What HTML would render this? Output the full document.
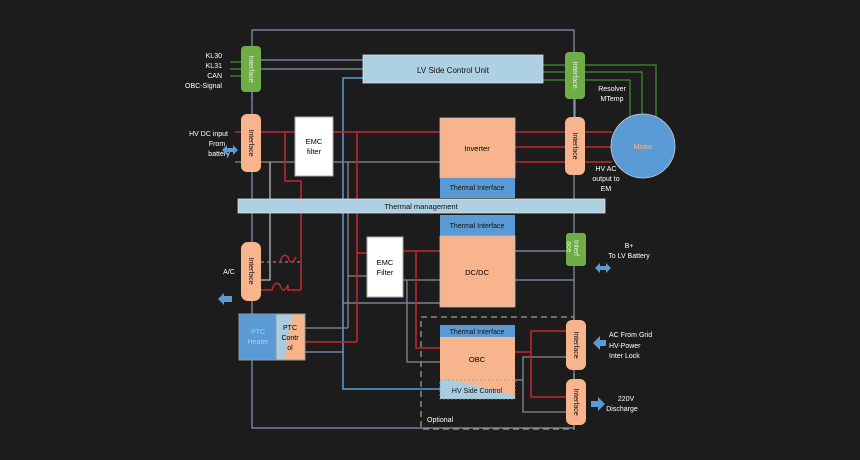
<!DOCTYPE html>
<html><head><style>
html,body{margin:0;padding:0;background:#1c1c1c;}
svg{display:block;font-family:"Liberation Sans",sans-serif;}
</style></head><body>
<svg width="860" height="460" viewBox="0 0 860 460" xmlns="http://www.w3.org/2000/svg">
<defs>
<linearGradient id="ptc" x1="0" y1="0" x2="1" y2="0.3">
<stop offset="0.45" stop-color="#a9cde0"/><stop offset="0.6" stop-color="#f8b48c"/></linearGradient>
<linearGradient id="hv" x1="0" y1="1" x2="1" y2="0">
<stop offset="0.55" stop-color="#a9cde0"/><stop offset="0.62" stop-color="#f8b48c"/></linearGradient>
</defs>
<rect width="860" height="460" fill="#1c1c1c"/>
<g stroke="#8497b0" stroke-width="1.2" fill="none">
<polyline points="252,100 252,30 574,30 574,428 252,428 252,360"/>
<line x1="252" y1="92" x2="252" y2="114"/>
<line x1="252" y1="172" x2="252" y2="242"/>
<line x1="252" y1="301" x2="252" y2="314"/>
</g>
<rect x="421" y="317" width="153" height="112" fill="none" stroke="#8a8a8a" stroke-width="1.5" stroke-dasharray="6,4"/>
<g stroke="#3a7d2a" stroke-width="1.5" fill="none">
<line x1="230" y1="62" x2="241" y2="62"/><line x1="230" y1="69" x2="241" y2="69"/><line x1="230" y1="76" x2="241" y2="76"/>
<line x1="543" y1="65" x2="565" y2="65"/><line x1="543" y1="72" x2="565" y2="72"/><line x1="543" y1="80" x2="565" y2="80"/>
<polyline points="585,65 656,65 656,118"/><polyline points="585,72 642,72 642,114"/><polyline points="585,80 630,80 630,118"/>
</g>
<g stroke="#8497b0" stroke-width="1.2" fill="none">
<line x1="261" y1="60" x2="363" y2="60"/><line x1="261" y1="69" x2="363" y2="69"/>
<line x1="343" y1="303" x2="440" y2="303"/>
<line x1="305" y1="352" x2="343" y2="352"/>
<line x1="515" y1="251" x2="574" y2="251"/><line x1="515" y1="280" x2="574" y2="280"/>
<line x1="575" y1="99" x2="575" y2="117"/>
</g>
<polyline points="363,78 343,78 343,389 440,389" stroke="#5b9bd5" stroke-width="1.5" fill="none"/>
<g stroke="#8a8a8a" stroke-width="1.3" fill="none">
<line x1="235" y1="162" x2="440" y2="162"/>
<polyline points="270,162 270,280 261,280" stroke="#bbb"/>
<line x1="348" y1="162" x2="348" y2="328"/><line x1="348" y1="328" x2="305" y2="328"/>
<line x1="348" y1="276" x2="367" y2="276"/>
<line x1="403" y1="280" x2="440" y2="280"/>
<polyline points="407,280 407,362 440,362"/>
<line x1="261" y1="262" x2="302" y2="262" stroke-dasharray="3,3"/>
<polyline points="515,380 523,380"/>
<polyline points="566,357 523,357 523,412 566,412"/>
</g>
<g stroke="#c0282e" stroke-width="1.5" fill="none">
<line x1="235" y1="132" x2="440" y2="132"/>
<polyline points="285,132 285,181 301,181 301,290"/>
<line x1="357" y1="132" x2="357" y2="342"/><line x1="357" y1="342" x2="305" y2="342"/>
<line x1="357" y1="253" x2="367" y2="253"/>
<line x1="515" y1="132" x2="612" y2="132"/><line x1="515" y1="147" x2="612" y2="147"/><line x1="515" y1="162" x2="612" y2="162"/>
<line x1="403" y1="251" x2="440" y2="251"/>
<polyline points="416,251 416,348 440,348"/>
<polyline points="515,352 531,352"/>
<polyline points="566,331 531,331 531,397 566,397"/>
<path d="M261,290 H272 q3,-10 8,-5 q3,10 8,0 V290 H301"/>
<path d="M280,262 q3,-10 8,-5 q3,10 8,0"/>
</g>
<rect x="363" y="55" width="180" height="28" fill="#add1e3" stroke="#ddd" stroke-width="0.8"/>
<text x="453" y="73" font-size="8" text-anchor="middle" fill="#111">LV Side Control Unit</text>
<rect x="295" y="117" width="38" height="59" fill="#fff" stroke="#aaa"/>
<text x="314" y="144" font-size="7.5" text-anchor="middle">EMC</text><text x="314" y="154" font-size="7.5" text-anchor="middle">filter</text>
<rect x="440" y="118" width="75" height="60" fill="#f8b48c" stroke="#bbb" stroke-width="0.8"/>
<text x="477" y="151" font-size="7.5" text-anchor="middle">Inverter</text>
<rect x="440" y="178" width="75" height="20" fill="#5b9bd5"/>
<text x="477" y="190" font-size="7" text-anchor="middle" fill="#111">Thermal Interface</text>
<rect x="238" y="199" width="367" height="14" fill="#add1e3" stroke="#ddd" stroke-width="0.8"/>
<text x="421" y="209" font-size="7.5" text-anchor="middle" fill="#111">Thermal management</text>
<rect x="440" y="215" width="75" height="21" fill="#5b9bd5"/>
<text x="477" y="228" font-size="7" text-anchor="middle" fill="#111">Thermal Interface</text>
<rect x="440" y="236" width="75" height="71" fill="#f8b48c" stroke="#bbb" stroke-width="0.8"/>
<text x="477" y="275" font-size="7.5" text-anchor="middle">DC/DC</text>
<rect x="367" y="237" width="36" height="60" fill="#fff" stroke="#aaa"/>
<text x="385" y="265" font-size="7.5" text-anchor="middle">EMC</text><text x="385" y="275" font-size="7.5" text-anchor="middle">Filter</text>
<rect x="440" y="325" width="75" height="12" fill="#5b9bd5"/>
<text x="477" y="334" font-size="7" text-anchor="middle" fill="#111">Thermal Interface</text>
<rect x="440" y="337" width="75" height="43" fill="#f8b48c"/>
<text x="477" y="362" font-size="7.5" text-anchor="middle">OBC</text>
<rect x="440" y="380" width="75" height="19" fill="url(#hv)" stroke="#999" stroke-dasharray="2,2" stroke-width="0.8"/>
<text x="477" y="393" font-size="7" text-anchor="middle" fill="#111">HV Side Control</text>
<rect x="239" y="314" width="37" height="46" fill="#5b9bd5" stroke="#999"/>
<text x="258" y="334" font-size="7" text-anchor="middle" fill="#a9cde0">PTC</text><text x="258" y="344" font-size="7" text-anchor="middle" fill="#a9cde0">Heater</text>
<rect x="276" y="314" width="29" height="46" fill="url(#ptc)" stroke="#999"/>
<text x="290" y="330" font-size="7" text-anchor="middle">PTC</text><text x="290" y="340" font-size="7" text-anchor="middle">Contr</text><text x="290" y="350" font-size="7" text-anchor="middle">ol</text>
<circle cx="643" cy="146" r="32" fill="#5b9bd5" stroke="#ccc" stroke-width="0.8"/>
<text x="643" y="149" font-size="7.5" text-anchor="middle" fill="#f8b48c">Motor</text>
<g font-size="7" fill="#111">
<rect x="241" y="46" width="20" height="46" rx="4" fill="#70ad47"/>
<text transform="translate(249,69) rotate(90)" text-anchor="middle" fill="#e2efd9">Interface</text>
<rect x="241" y="114" width="20" height="58" rx="6" fill="#f8b48c"/>
<text transform="translate(249,143) rotate(90)" text-anchor="middle">Interface</text>
<rect x="565" y="52" width="20" height="47" rx="4" fill="#70ad47"/>
<text transform="translate(573,75) rotate(90)" text-anchor="middle" fill="#e2efd9">Interface</text>
<rect x="565" y="117" width="20" height="58" rx="6" fill="#f8b48c"/>
<text transform="translate(573,146) rotate(90)" text-anchor="middle">Interface</text>
<rect x="241" y="242" width="20" height="59" rx="7" fill="#f8b48c"/>
<text transform="translate(249,271) rotate(90)" text-anchor="middle">Interface</text>
<rect x="566" y="233" width="20" height="33" rx="3" fill="#70ad47"/>
<text transform="translate(574,240) rotate(90)" fill="#e2efd9">Interf</text>
<text transform="translate(567,241) rotate(90)" fill="#e2efd9">ace</text>
<rect x="566" y="320" width="20" height="50" rx="6" fill="#f8b48c"/>
<text transform="translate(574,345) rotate(90)" text-anchor="middle">Interface</text>
<rect x="566" y="379" width="20" height="46" rx="6" fill="#f8b48c"/>
<text transform="translate(574,402) rotate(90)" text-anchor="middle">Interface</text>
</g>
<g font-size="7" fill="#fff">
<text x="222" y="58" text-anchor="end">KL30</text><text x="222" y="68" text-anchor="end">KL31</text>
<text x="222" y="78" text-anchor="end">CAN</text><text x="222" y="88" text-anchor="end">OBC-Signal</text>
<text x="228" y="136" text-anchor="end">HV DC input</text><text x="217" y="146" text-anchor="middle">From</text>
<text x="219" y="156" text-anchor="middle">battery</text>
<text x="612" y="91" text-anchor="middle">Resolver</text><text x="612" y="101" text-anchor="middle">MTemp</text>
<text x="606" y="171" text-anchor="middle">HV AC</text><text x="606" y="181" text-anchor="middle">output to</text><text x="606" y="191" text-anchor="middle">EM</text>
<text x="229" y="274" text-anchor="middle">A/C</text>
<text x="629" y="248" text-anchor="middle">B+</text><text x="629" y="258" text-anchor="middle">To LV Battery</text>
<text x="609" y="337">AC From Grid</text><text x="609" y="348">HV-Power</text><text x="609" y="358">Inter Lock</text>
<text x="626" y="401" text-anchor="middle">220V</text><text x="622" y="411" text-anchor="middle">Discharge</text>
<text x="427" y="422">Optional</text>
</g>
<g fill="#5b9bd5">
<path d="M222,150 l5,-5 v3 h6 v-3 l5,5 l-5,5 v-3 h-6 v3z"/>
<path d="M218,299 l6,-6 v3 h8 v6 h-8 v3z"/>
<path d="M595,268 l5,-5 v3 h6 v-3 l5,5 l-5,5 v-3 h-6 v3z"/>
<path d="M593,343 l7,-7 v4 h6 v6 h-6 v4z"/>
<path d="M605,404 l-7,-7 v4 h-7 v6 h7 v4z"/>
</g>
</svg>
</body></html>
